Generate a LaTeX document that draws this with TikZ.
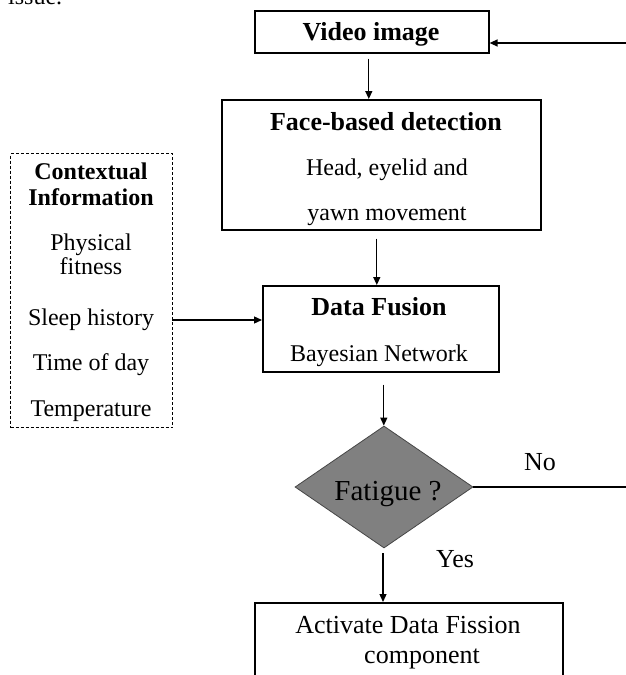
\documentclass[tikz,border=0pt]{standalone}
\usepackage{fontspec}
\setmainfont{Liberation Serif}
\usetikzlibrary{arrows.meta,shapes.geometric}
\definecolor{fatgray}{RGB}{128,128,128}
\definecolor{fatedge}{RGB}{70,70,70}
\begin{document}
\begin{tikzpicture}[x=1pt,y=-1pt,
  box/.style={draw,line width=1.6pt,inner sep=0pt,anchor=north west},
  ctxbox/.style={draw,line width=1.3pt,dash pattern=on 3pt off 2pt,inner sep=0pt,anchor=north west},
  arr/.style={-{Triangle[length=8pt,width=7pt]},line width=1.3pt},
  plain/.style={line width=1.3pt},
  txt/.style={anchor=base,inner sep=0pt,font=\fontsize{24}{28}\selectfont},
  btxt/.style={anchor=base,inner sep=0pt,font=\fontsize{26}{30}\selectfont\bfseries},
  ctxb/.style={anchor=base,inner sep=0pt,font=\fontsize{24}{28}\selectfont\bfseries},
  bigtxt/.style={anchor=base,inner sep=0pt,font=\fontsize{26}{30}\selectfont},
  fattxt/.style={anchor=base,inner sep=0pt,font=\fontsize{29}{33}\selectfont}
]
\useasboundingbox (0,0) rectangle (626,675);

% cut-off text at top left
\node[txt,anchor=base west] (issue) at (8,4) {issue.};

% boxes
\node[box,minimum width=234pt,minimum height=42pt] (video) at (254,10) {};
\node[box,minimum width=319pt,minimum height=130pt] (face) at (221,99) {};
\node[box,minimum width=236pt,minimum height=86pt] (fusion) at (262,285) {};
\node[ctxbox,minimum width=162pt,minimum height=274pt] (ctx) at (10,153) {};
\node[box,minimum width=308pt,minimum height=110pt] (act) at (254,602) {};
\node[diamond,draw=fatedge,line width=0.8pt,fill=fatgray,inner sep=0pt,
      minimum width=178pt,minimum height=122pt] (fat) at (384,487) {};

% texts
\node[btxt] (tvideo) at (371,40) {Video image};
\node[btxt] (tface) at (386,130) {Face-based detection};
\node[txt] (tface1) at (387,175) {Head, eyelid and};
\node[txt] (tface2) at (387,220) {yawn movement};
\node[btxt] (tfus) at (379,315) {Data Fusion};
\node[txt] (tfus1) at (379,361) {Bayesian Network};
\node[ctxb] (tc1) at (91,179) {Contextual};
\node[ctxb] (tc2) at (91,205) {Information};
\node[txt] (tc3) at (91,250) {Physical};
\node[txt] (tc4) at (91,274) {fitness};
\node[txt] (tc5) at (91,325) {Sleep history};
\node[txt] (tc6) at (91,370) {Time of day};
\node[txt] (tc7) at (91,416) {Temperature};
\node[fattxt] (tfat) at (388,500) {Fatigue ?};
\node[bigtxt] (tno) at (540,470) {No};
\node[bigtxt] (tyes) at (455,567) {Yes};
\node[bigtxt] (tact1) at (408,633) {Activate Data Fission};
\node[bigtxt] (tact2) at (422,663) {component};

% free ends
\coordinate (inR) at (626,43);
\coordinate (noR) at (626,487);
\coordinate (ctxA) at (172,320);

% connectors
\draw[arr] (inR) -- (video.east |- inR);
\draw[arr,shorten <=5pt] ([xshift=-3pt]video.south) -- ([xshift=-3pt]video.south |- face.north);
\draw[arr,shorten <=8pt] ([xshift=-4.5pt]face.south) -- ([xshift=-4.5pt]face.south |- fusion.north);
\draw[arr,shorten <=12pt] ([xshift=3pt]fusion.south) -- ([xshift=3pt]fusion.south |- fat.north);
\draw[arr] (ctxA) -- (fusion.west |- ctxA);
\draw[plain] (fat.east) -- (noR);
\draw[arr,shorten <=5pt] ([xshift=-1pt]fat.south) -- ([xshift=-1pt]fat.south |- act.north);
\end{tikzpicture}
\end{document}
